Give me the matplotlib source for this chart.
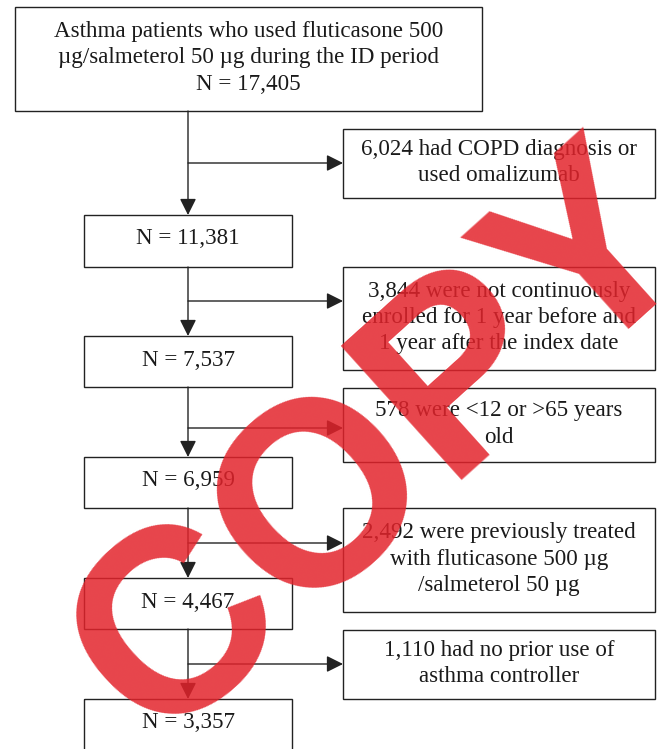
import matplotlib.pyplot as plt
from matplotlib.patches import Rectangle


# flow of patients through the selection steps
START_LABEL = "Asthma patients who used fluticasone 500\nµg/salmeterol 50 µg during the ID period"
REMAINING_N = [17405, 11381, 7537, 6959, 4467, 3357]
EXCLUDED_N = [6024, 3844, 578, 2492, 1110]
EXCLUDED_REASON = [
    "{} had COPD diagnosis or\nused omalizumab",
    "{} were not continuously\nenrolled for 1 year before and\n1 year after the index date",
    "{} were <12 or >65 years\nold",
    "{} were previously treated\nwith fluticasone 500 µg\n/salmeterol 50 µg",
    "{} had no prior use of\nasthma controller",
]

# layout in pixels (image is 660 x 749, y downward)
W, H = 660, 749
TOP_BOX = (15, 7, 482, 111)
LEFT_X = (84, 292)
LEFT_Y = [(215, 267), (336, 387), (457, 508), (578, 629), (699, 760)]
RIGHT_X = (343, 655)
RIGHT_Y = [(129, 198), (267, 370), (388, 462), (508, 612), (630, 699)]
BRANCH_Y = [163, 301, 428, 543, 664]
STEM_X = 188

LINE = "#222222"
FONT = dict(family="Liberation Serif", fontsize=16.6, color="#1a1a1a", linespacing=1.33)
ARROW = dict(arrowstyle="-|>,head_length=0.5,head_width=0.25", mutation_scale=20,
             color=LINE, lw=1.0, shrinkA=0, shrinkB=0)


def box(ax, x0, y0, x1, y1):
    ax.add_patch(Rectangle((x0, y0), x1 - x0, y1 - y0, fill=False, ec=LINE, lw=1.0))


def arrow(ax, x0, y0, x1, y1):
    ax.annotate("", xy=(x1, y1), xytext=(x0, y0), arrowprops=ARROW)


def main():
    fig = plt.figure(figsize=(W / 100, H / 100), dpi=100)
    ax = fig.add_axes([0, 0, 1, 1])
    ax.set_xlim(0, W)
    ax.set_ylim(H, 0)
    ax.axis("off")

    # first box
    x0, y0, x1, y1 = TOP_BOX
    box(ax, x0, y0, x1, y1)
    ax.text((x0 + x1) / 2, (y0 + y1) / 2 - 1, f"{START_LABEL}\nN = {REMAINING_N[0]:,}",
            ha="center", va="center", **FONT)

    prev_bottom = y1
    for i, (ly, ry, by) in enumerate(zip(LEFT_Y, RIGHT_Y, BRANCH_Y)):
        # remaining box
        box(ax, LEFT_X[0], ly[0], LEFT_X[1], ly[1])
        ax.text(sum(LEFT_X) / 2, ly[0] + 24, f"N = {REMAINING_N[i + 1]:,}",
                ha="center", va="center", **FONT)
        arrow(ax, STEM_X, prev_bottom, STEM_X, ly[0])
        prev_bottom = ly[1]

        # excluded box
        box(ax, RIGHT_X[0], ry[0], RIGHT_X[1], ry[1])
        ax.text(sum(RIGHT_X) / 2, sum(ry) / 2 - 1, EXCLUDED_REASON[i].format(f"{EXCLUDED_N[i]:,}"),
                ha="center", va="center", **FONT)
        arrow(ax, STEM_X, by, RIGHT_X[0], by)

    # watermark
    ax.text(385, 448, "COPY", rotation=42, rotation_mode="anchor", fontsize=188,
            fontweight="bold", family="Liberation Sans", color="#e3232b", alpha=0.85,
            ha="center", va="center", zorder=10)

    fig.savefig("out.png", dpi=100)


if __name__ == "__main__":
    main()
